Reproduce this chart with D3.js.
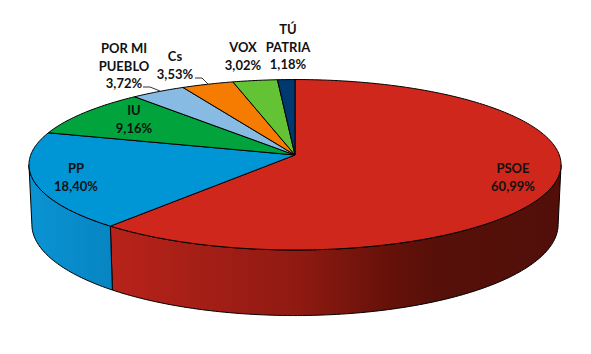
<!DOCTYPE html>
<html>
<head>
<meta charset="utf-8">
<script src="https://cdnjs.cloudflare.com/ajax/libs/d3/7.8.5/d3.min.js"></script>
<style>
  html, body { margin: 0; padding: 0; background: #fff; }
  svg { display: block; }
  text { font-family: Lato, "Open Sans", sans-serif; font-weight: 700; font-size: 13px; fill: #111; text-anchor: middle; }
</style>
</head>
<body>
<svg id="chart" width="591" height="354"></svg>
<script>
// Values
const parties = ["PSOE", "PP", "IU", "POR MI PUEBLO", "Cs", "VOX", "TÚ PATRIA"];
const shares = [60.99, 18.40, 9.16, 3.72, 3.53, 3.02, 1.18];
const shareLabels = ["60,99%", "18,40%", "9,16%", "3,72%", "3,53%", "3,02%", "1,18%"];
const topColors = ["#d0271d", "#0096d6", "#00a33c", "#88bbe3", "#f57c00", "#63c335", "#003870"];

const svg = d3.select("#chart");
const defs = svg.append("defs");

// Perspective settings for the tilted disc
const apex = { x: 295, y: 155 };
const radiusX = 264.3, radiusY = 84.1, tilt = 0.1144, depth = 59, shrink = 0.011;

function project(angle, h) {
    const u = Math.sin(angle), v = -Math.cos(angle);
    const w = 1 - tilt * v;
    const s = 1 - shrink * h;
    return [apex.x + radiusX * s * u / w, apex.y + (radiusY * s * v + depth * h) / w];
}

const pie = d3.pie().sort(null).value(d => d)(shares);
const line = d3.line();

function arcPoints(a0, a1, h) {
    const n = Math.max(2, Math.ceil((a1 - a0) * 60));
    return d3.range(n + 1).map(i => project(a0 + (a1 - a0) * i / n, h));
}

// Side wall gradients, running left to right across the picture
function wallGradient(id, x1, x2, stops) {
    const g = defs.append("linearGradient").attr("id", id)
        .attr("gradientUnits", "userSpaceOnUse")
        .attr("x1", x1).attr("x2", x2).attr("y1", 0).attr("y2", 0);
    stops.forEach(s => g.append("stop").attr("offset", s[0]).attr("stop-color", s[1]));
}
wallGradient("wall0", 110, 560, [[0, "#b8231a"], [0.42, "#8f1a12"], [0.62, "#651109"], [0.73, "#561009"], [1, "#520f0a"]]);
wallGradient("wall1", 30, 112, [[0, "#0a93d3"], [1, "#0785c2"]]);

// Walls: only the part of the rim that faces the viewer
const rimStart = Math.acos(-tilt), rimEnd = 2 * Math.PI - rimStart;
[0, 1].forEach(i => {
    const a0 = Math.max(pie[i].startAngle, rimStart);
    const a1 = Math.min(pie[i].endAngle, rimEnd);
    const pts = arcPoints(a0, a1, 0).concat(arcPoints(a0, a1, 1).reverse());
    svg.append("path")
        .attr("d", line(pts) + "Z")
        .attr("fill", `url(#wall${i})`)
        .attr("stroke", "#000")
        .attr("stroke-width", 1);
});

// Top face of each slice
pie.forEach((d, i) => {
    const pts = [[apex.x, apex.y]].concat(arcPoints(d.startAngle, d.endAngle, 0));
    svg.append("path")
        .attr("d", line(pts) + "Z")
        .attr("fill", topColors[i])
        .attr("stroke", "#000")
        .attr("stroke-width", 1)
        .attr("stroke-linejoin", "round");
});

// Leader lines for the two small slices
[[[143, 87], [150, 87], [160, 91]], [[195, 78], [202, 78], [208, 84]]].forEach(l => {
    svg.append("path")
        .attr("d", line(l))
        .attr("fill", "none")
        .attr("stroke", "#333")
        .attr("stroke-width", 1);
});

// Labels: name lines then the share
const labelLayout = [
    { x: 513, y: 173, lines: ["PSOE"] },
    { x: 76, y: 173, lines: ["PP"] },
    { x: 134, y: 115, lines: ["IU"] },
    { x: 124, y: 53, lines: ["POR MI", "PUEBLO"] },
    { x: 175, y: 61, lines: ["Cs"] },
    { x: 243, y: 52, lines: ["VOX"] },
    { x: 288, y: 34, lines: ["TÚ", "PATRIA"] }
];
labelLayout.forEach((l, i) => {
    const t = svg.append("text").attr("x", l.x).attr("y", l.y);
    l.lines.concat(shareLabels[i]).forEach((s, k) => {
        t.append("tspan").attr("x", l.x).attr("dy", k ? 17.5 : 0).text(s);
    });
});
</script>
</body>
</html>
